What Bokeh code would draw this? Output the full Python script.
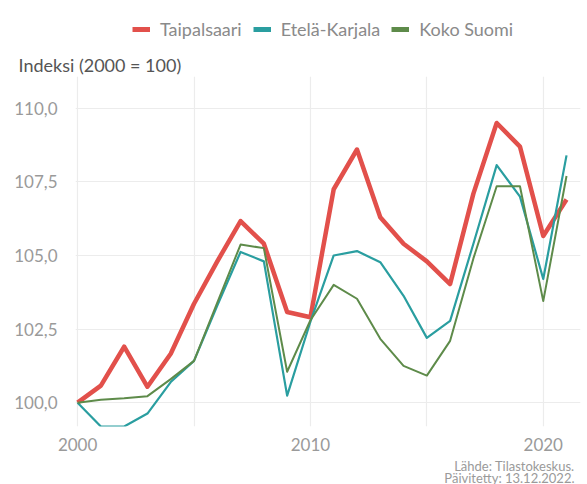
from bokeh.plotting import figure
from bokeh.layouts import column
from bokeh.models import Legend, LegendItem, Label, FixedTicker, CustomJSTickFormatter
from bokeh.embed import file_html
from bokeh.resources import INLINE

years = list(range(2000, 2022))
taipalsaari = [100.0, 100.58, 101.9, 100.54, 101.66, 103.36, 104.8, 106.17, 105.4, 103.08, 102.9,
               107.25, 108.6, 106.3, 105.4, 104.8, 104.03, 107.1, 109.5, 108.7, 105.66, 106.9]
etela_karjala = [100.0, 99.19, 99.19, 99.63, 100.7, 101.42, 103.3, 105.12, 104.8, 100.24, 102.75,
                 105.0, 105.15, 104.77, 103.63, 102.2, 102.78, 105.4, 108.07, 107.0, 104.2, 108.4]
koko_suomi = [100.0, 100.1, 100.15, 100.22, 100.8, 101.42, 103.4, 105.37, 105.25, 101.05, 102.8,
              104.0, 103.53, 102.17, 101.25, 100.92, 102.1, 104.9, 107.35, 107.35, 103.45, 107.7]
series_names = ["Taipalsaari", "Etelä-Karjala", "Koko Suomi"]
series_colors = ["#e2504b", "#2a9ea0", "#5e8b4a"]
series_widths = [4.5, 2.2, 2.0]
y_ticks = [100.0, 102.5, 105.0, 107.5, 110.0]
x_ticks = [2000, 2010, 2020]
x_grid = [2000, 2005, 2010, 2015, 2020]

FONT = "Lato"
series = [taipalsaari, etela_karjala, koko_suomi]


def bare(height, title=None):
    f = figure(width=587, height=height, x_range=(0, 1), y_range=(0, 1),
               x_axis_type=None, y_axis_type=None, output_backend="svg",
               toolbar_location=None, title=title, title_location="below",
               min_border_left=75, min_border_right=7, min_border_top=0, min_border_bottom=0)
    f.outline_line_color = None
    f.grid.visible = False
    return f


# ---- header: legend + y-axis title ----
head = bare(76, title="Indeksi (2000 = 100)")
head.title.align = "left"
head.title.offset = -57
head.title.standoff = 2
head.title.text_font = FONT
head.title.text_font_size = "18px"
head.title.text_font_style = "normal"
head.title.text_color = "#555555"

# legend swatches (the series lie outside this header's ranges, so only the legend shows)
legend_renderers = [head.line(years, vals, line_color=c, line_width=5)
                    for vals, c in zip(series, series_colors)]
legend = Legend(items=[LegendItem(label=n, renderers=[r]) for n, r in zip(series_names, legend_renderers)],
                location=(57, 10), orientation="horizontal",
                glyph_width=18, glyph_height=16, label_standoff=10, spacing=11,
                padding=0, margin=0, border_line_color=None, background_fill_alpha=0,
                label_text_font=FONT, label_text_font_size="18px", label_text_color="#8a8a8a")
head.add_layout(legend, "center")

# ---- main chart ----
p = figure(width=587, height=377, x_range=(1999.91, 2021.6), y_range=(99.19, 111.08),
           output_backend="svg", toolbar_location=None, title=None,
           min_border_left=75, min_border_right=7, min_border_top=0, min_border_bottom=25)
p.outline_line_color = None

for vals, c, w in zip(series, series_colors, series_widths):
    p.line(years, vals, line_color=c, line_width=w, line_join="round")

for ax in (p.xaxis[0], p.yaxis[0]):
    ax.axis_line_color = None
    ax.major_tick_line_color = None
    ax.minor_tick_line_color = None
    ax.major_label_text_font = FONT
    ax.major_label_text_font_size = "17px"
    ax.major_label_text_color = "#9a9a9a"

p.yaxis.ticker = FixedTicker(ticks=y_ticks)
p.yaxis.formatter = CustomJSTickFormatter(code="return tick.toFixed(1).replace('.', ',');")
p.yaxis.major_label_standoff = 12
p.xaxis.ticker = FixedTicker(ticks=x_ticks)
p.xaxis.major_label_standoff = 5

p.xgrid.ticker = FixedTicker(ticks=x_grid)
p.ygrid.ticker = FixedTicker(ticks=y_ticks)
p.xgrid.grid_line_color = "#ececec"
p.ygrid.grid_line_color = "#ececec"
p.xgrid.grid_line_width = 1.2
p.ygrid.grid_line_width = 1.2

# ---- footer: source note ----
foot = bare(31)
foot.add_layout(Label(x=499, y=19, x_units="screen", y_units="screen", text="Lähde: Tilastokeskus.",
                      text_font=FONT, text_font_size="13px", text_color="#9a9a9a",
                      text_align="right", text_baseline="middle"))
foot.add_layout(Label(x=499, y=7, x_units="screen", y_units="screen", text="Päivitetty: 13.12.2022.",
                      text_font=FONT, text_font_size="13px", text_color="#9a9a9a",
                      text_align="right", text_baseline="middle"))

layout = column(head, p, foot, spacing=0)
open("out.html", "w").write(file_html(layout, INLINE))
